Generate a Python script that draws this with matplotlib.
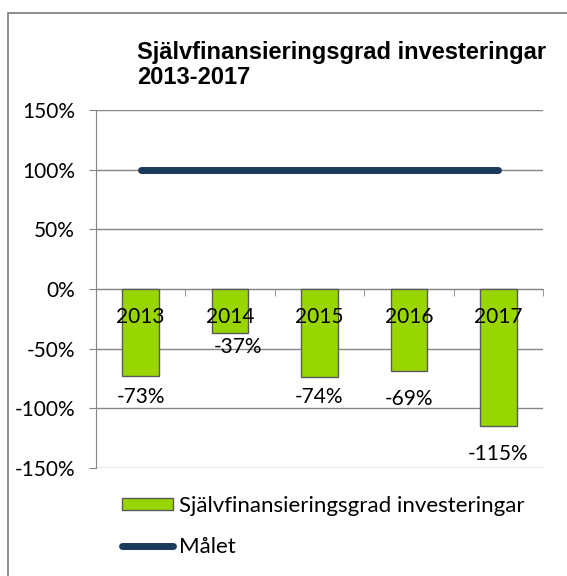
import numpy as np
import matplotlib
matplotlib.use("Agg")
import matplotlib.pyplot as plt
import matplotlib.patches as patches
from matplotlib.lines import Line2D
from matplotlib.ticker import FixedLocator, FuncFormatter

plt.rcParams['font.family'] = ['Lato', 'DejaVu Sans']

years = ["2013", "2014", "2015", "2016", "2017"]
grad = [-0.73, -0.37, -0.74, -0.69, -1.15]
malet = [1.0, 1.0, 1.0, 1.0, 1.0]
bar_labels = ["-73%", "-37%", "-74%", "-69%", "-115%"]

# label nudges in points (x, y) below the bar ends
label_offsets = [(0, -15), (6, -10), (0, -14.5), (0, -20), (0, -20)]

GREEN = "#99D600"
NAVY = "#1B3A5C"
GREY = "#868686"

fig = plt.figure(figsize=(5.67, 5.76), dpi=100)
ax = fig.add_axes([96/567, 1 - 468/576, (543 - 96)/567, (468 - 110)/576])

x = np.arange(len(years))
ax.bar(x, grad, width=0.41, color=GREEN, edgecolor="#5A5A5A", linewidth=1, zorder=3)
ax.plot(x, malet, color=NAVY, lw=5, solid_capstyle="round", zorder=4)

for xi, v, txt, off in zip(x, grad, bar_labels, label_offsets):
    ax.annotate(txt, (xi, v), xytext=off, textcoords="offset points",
                ha="center", va="center", fontsize=15, zorder=5)

ax.set_xlim(-0.5, len(years) - 0.5)
ax.set_ylim(-1.5, 1.5)
ax.set_yticks(np.arange(-1.5, 1.51, 0.5))
ax.yaxis.set_major_formatter(FuncFormatter(lambda v, p: f"{v*100:.0f}%"))
ax.yaxis.grid(True, color=GREY, lw=1)
ax.set_axisbelow(True)

ax.spines["top"].set_visible(False)
ax.spines["right"].set_visible(False)
ax.spines["left"].set_color(GREY)
ax.spines["bottom"].set_color(GREY)
ax.spines["bottom"].set_position(("data", 0))

ax.set_xticks(x)
ax.set_xticklabels(years)
ax.xaxis.set_minor_locator(FixedLocator(np.arange(0.5, len(years), 1.0)))
ax.tick_params(axis="x", which="major", length=0, pad=13, labelsize=15)
ax.tick_params(axis="x", which="minor", length=5, color=GREY, direction="out")
ax.tick_params(axis="y", length=5, color=GREY, labelsize=15, pad=10)
# year labels sit on top of the bars
ax.xaxis.set_zorder(6)

fig.text(137/567, 1 - 52/576, "Självfinansieringsgrad investeringar",
         fontsize=17, fontweight="bold", family="Liberation Sans", va="center", ha="left")
fig.text(137/567, 1 - 77/576, "2013-2017",
         fontsize=17, fontweight="bold", family="Liberation Sans", va="center", ha="left")

handles = [
    patches.Patch(facecolor=GREEN, edgecolor="#5A5A5A", linewidth=1),
    Line2D([0], [0], color=NAVY, lw=5, solid_capstyle="round"),
]
leg = fig.legend(handles, ["Självfinansieringsgrad investeringar", "Målet"],
                 loc="upper left", bbox_to_anchor=(113/567, 1 - 487/576),
                 frameon=False, fontsize=16, handlelength=2.3, handleheight=0.4,
                 handletextpad=0.25, labelspacing=0.95, borderaxespad=0)

# chart frame, running past the right and bottom edges
frame = patches.Rectangle((8/567, -0.1), 1.0, 1.1 - 13/576, transform=fig.transFigure,
                          fill=False, edgecolor=GREY, lw=1.3, clip_on=False)
fig.patches.append(frame)

fig.savefig("out.png", dpi=100)
